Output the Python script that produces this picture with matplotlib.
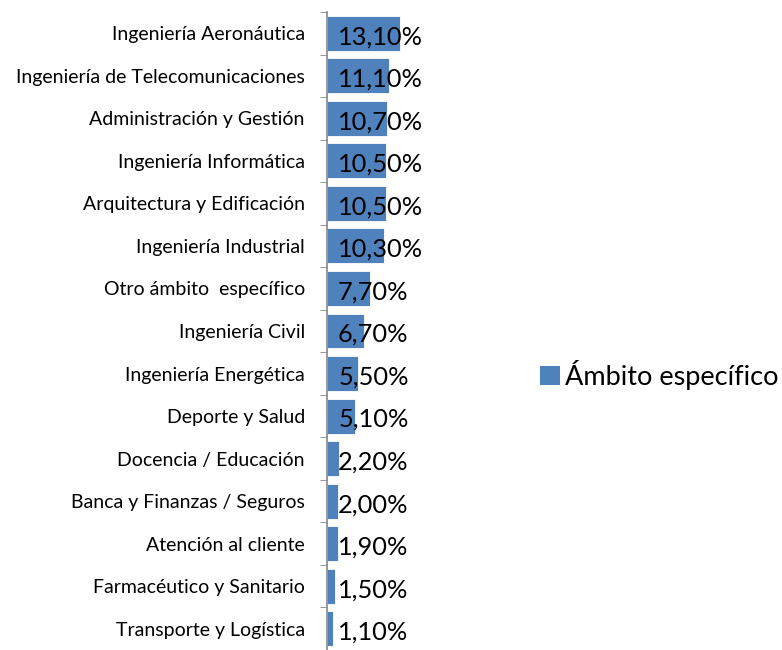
import matplotlib
matplotlib.use('Agg')
import matplotlib.pyplot as plt
from matplotlib.patches import Patch
import numpy as np

# Data (top to bottom as shown)
categories = ['Ingeniería Aeronáutica', 'Ingeniería de Telecomunicaciones',
              'Administración y Gestión', 'Ingeniería Informática',
              'Arquitectura y Edificación', 'Ingeniería Industrial',
              'Otro ámbito  específico', 'Ingeniería Civil',
              'Ingeniería Energética', 'Deporte y Salud',
              'Docencia / Educación', 'Banca y Finanzas / Seguros',
              'Atención al cliente', 'Farmacéutico y Sanitario',
              'Transporte y Logística']
values = [13.1, 11.1, 10.7, 10.5, 10.5, 10.3, 7.7, 6.7, 5.5, 5.1,
          2.2, 2.0, 1.9, 1.5, 1.1]
series_name = 'Ámbito específico'

BLUE = '#4F81BD'
AXIS = '#868686'

plt.rcParams['font.family'] = ['Lato', 'DejaVu Sans']

W, H = 782, 650
fig = plt.figure(figsize=(W / 100, H / 100), dpi=100)
ax = fig.add_axes([327 / W, 0, 78 / W, 1 - 12 / H])

y = np.arange(len(categories))
ax.barh(y, values, height=0.82, color=BLUE, edgecolor='white', linewidth=0.6)
ax.set_xlim(0, 14)
ax.set_ylim(len(categories) - 0.5, -0.5)

# value labels sit just right of the axis, slightly below bar centre
for i, v in enumerate(values):
    ax.annotate(f'{v:.2f}%'.replace('.', ','), xy=(0, i), xytext=(8, -2.5),
                textcoords='offset points', ha='left', va='center',
                fontsize=18.3, color='black')

ax.set_yticks(y)
ax.set_yticklabels(categories, fontsize=14, color='black')
ax.set_yticks(np.arange(len(categories) + 1) - 0.5, minor=True)
ax.tick_params(axis='y', which='major', length=0, pad=16)
ax.tick_params(axis='y', which='minor', length=5, color=AXIS, direction='out')
ax.set_xticks([])
for s in ['top', 'right', 'bottom']:
    ax.spines[s].set_visible(False)
ax.spines['left'].set_color(AXIS)
ax.spines['left'].set_linewidth(1.2)

fig.legend(handles=[Patch(facecolor=BLUE, label=series_name)],
           loc='center left', bbox_to_anchor=(540 / W, 1 - 375 / H),
           frameon=False, fontsize=19.5, handlelength=0.72, handleheight=0.72,
           handletextpad=0.2, borderpad=0, borderaxespad=0)

fig.savefig('out.png', dpi=100, facecolor='white')
